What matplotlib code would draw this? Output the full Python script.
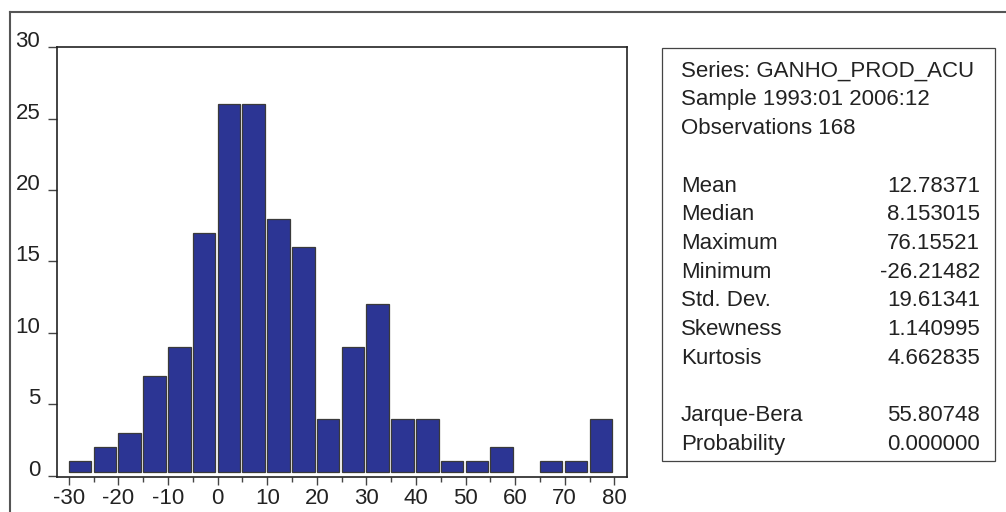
import numpy as np
import matplotlib
matplotlib.use('Agg')
import matplotlib.pyplot as plt
from matplotlib.lines import Line2D
from matplotlib.patches import Rectangle

plt.rcParams['font.family'] = ['Liberation Sans', 'DejaVu Sans']

# histogram bins (left edges) and counts
bin_left = [-30, -25, -20, -15, -10, -5, 0, 5, 10, 15, 20,
            25, 30, 35, 40, 45, 50, 55, 60, 65, 70, 75]
counts = [1, 2, 3, 7, 9, 17, 26, 26, 18, 16, 4,
          9, 12, 4, 4, 1, 1, 2, 0, 1, 1, 4]
x_ticks = [-30, -20, -10, 0, 10, 20, 30, 40, 50, 60, 70, 80]
y_ticks = [0, 5, 10, 15, 20, 25, 30]

# summary statistics panel
header_lines = ['Series: GANHO_PROD_ACU', 'Sample 1993:01 2006:12', 'Observations 168']
stat_names = ['Mean', 'Median', 'Maximum', 'Minimum', 'Std. Dev.', 'Skewness', 'Kurtosis']
stat_values = ['12.78371', '8.153015', '76.15521', '-26.21482', '19.61341', '1.140995', '4.662835']
test_names = ['Jarque-Bera', 'Probability']
test_values = ['55.80748', '0.000000']

W, H = 1006, 512
bar_color = '#2c3594'
dark = '#222222'
fs_tick = 16
fs = 16


def fx(px):
    return px / W


def fy(py):
    return 1 - py / H


fig = plt.figure(figsize=(W / 100, H / 100), dpi=100)

# outer frame (top and left edges only)
fig.add_artist(Line2D([fx(10), 1], [fy(11.5), fy(11.5)], color='#555555', lw=1.5,
                      transform=fig.transFigure))
fig.add_artist(Line2D([fx(10), fx(10)], [fy(11.5), 0], color='#555555', lw=1.5,
                      transform=fig.transFigure))

ax = fig.add_axes([fx(57), fy(476.5), fx(626.7) - fx(57), fy(47.3) - fy(476.5)])

gap = 0.25  # small visual gap between bars and axis line
lefts = np.array(bin_left)
cnt = np.array(counts, dtype=float)
m = cnt > 0
ax.bar(lefts[m], cnt[m] - gap, bottom=gap, width=4.55, align='edge',
       color=bar_color, edgecolor='#3a3a3a', linewidth=0.9)

ax.set_xlim(-32.4, 82.5)
ax.set_ylim(-0.06, 30)

for s in ax.spines.values():
    s.set_color(dark)
    s.set_linewidth(1.2)

ax.set_xticks(x_ticks)
ax.set_xticks(bin_left + [80], minor=True)
ax.set_yticks(y_ticks)
ax.tick_params(axis='x', which='major', direction='out', length=6, width=1,
               color='#444444', pad=2.5, labelsize=fs_tick, labelcolor=dark)
ax.tick_params(axis='x', which='minor', direction='out', length=3.6, width=1,
               color='#444444')
ax.tick_params(axis='y', which='major', direction='out', length=6.5, width=1,
               color='#444444', pad=5.5, labelsize=fs_tick, labelcolor=dark)
ax.set_xticklabels([str(v) for v in x_ticks])
ax.set_yticklabels([str(v) for v in y_ticks])
for lab in ax.get_yticklabels():
    lab.set_va('baseline')

# statistics box
fig.add_artist(Rectangle((fx(661.7), fy(461)), fx(995) - fx(661.7), fy(48.3) - fy(461),
                         fill=False, edgecolor='#444444', lw=0.9, transform=fig.transFigure))

row0, step = 76.7, 28.7
tx_l, tx_r = 681, 980
rows = [(t, None) for t in header_lines] + [None] + \
       list(zip(stat_names, stat_values)) + [None] + list(zip(test_names, test_values))
for i, r in enumerate(rows):
    if r is None:
        continue
    yb = fy(row0 + step * i)
    fig.text(fx(tx_l), yb, r[0], ha='left', va='baseline', fontsize=fs, color=dark)
    if r[1] is not None:
        fig.text(fx(tx_r), yb, r[1], ha='right', va='baseline', fontsize=fs, color=dark)

fig.savefig('out.png', dpi=100)
